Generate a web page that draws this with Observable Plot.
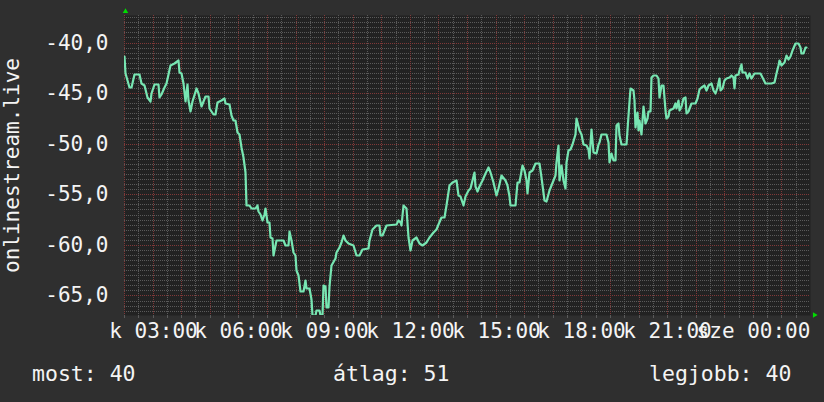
<!DOCTYPE html>
<html><head><meta charset="utf-8">
<script src="https://cdn.jsdelivr.net/npm/d3@7"></script>
<script src="https://cdn.jsdelivr.net/npm/@observablehq/plot@0.6"></script>
<style>
html,body{margin:0;padding:0;background:#2f2f2f;}
#wrap{position:relative;width:824px;height:402px;overflow:hidden;font-family:"DejaVu Sans Mono",monospace;color:#f4f4f4;}
#chart svg{display:block;}
#legend{position:absolute;left:0;top:363px;width:824px;height:24px;font-size:21.5px;line-height:21.5px;}
#legend span{position:absolute;top:0;white-space:pre;}
</style></head><body><div id="wrap"><div id="chart"></div><div id="legend"></div></div>
<script>
// time span: kedd 02:00 -> szerda 02:00
const startTime = "2024-01-02T02:00:00Z";
const endTime = "2024-01-03T02:00:00Z";
const minutesAfterStart = [1,3,10,15,21,31,36,43,48,54,57,62,71,73,78,83,89,96,106,113,115,120,123,127,132,134,138,143,152,156,162,169,176,179,186,190,195,204,209,213,220,225,228,234,237,242,246,249,253,257,263,267,274,279,282,286,290,293,297,300,304,307,310,312,316,320,333,337,344,347,351,354,359,362,365,370,375,379,383,389,393,395,400,404,409,412,416,417,421,424,429,431,435,442,445,451,456,459,463,470,480,486,494,500,512,515,521,529,535,538,542,550,571,575,580,582,585,592,596,601,605,613,620,626,634,641,648,654,659,666,671,675,682,689,697,701,706,711,715,722,727,734,737,741,746,752,757,764,769,774,781,785,792,799,804,808,811,820,825,830,836,839,843,846,850,857,862,871,876,881,886,893,897,904,907,911,913,918,921,925,928,932,937,941,946,949,955,960,963,969,974,977,981,984,990,995,998,1002,1012,1016,1019,1023,1026,1030,1033,1037,1040,1044,1054,1058,1063,1068,1070,1073,1076,1079,1082,1086,1089,1093,1097,1100,1105,1107,1110,1117,1121,1124,1128,1131,1135,1138,1142,1145,1152,1156,1159,1163,1166,1170,1173,1177,1180,1184,1191,1198,1203,1207,1212,1217,1221,1226,1233,1236,1240,1245,1249,1252,1255,1259,1264,1270,1275,1278,1280,1283,1289,1292,1295,1298,1303,1308,1312,1317,1322,1327,1334,1340,1345,1359,1364,1368,1373,1375,1380,1385,1390,1394,1397,1403,1408,1415,1418,1422,1425,1429,1432];
const values = [-41.3,-43.0,-44.4,-44.4,-43.1,-43.1,-44.0,-44.2,-45.4,-45.8,-45.0,-44.1,-44.1,-45.4,-45.1,-44.4,-44.0,-42.2,-42.0,-41.7,-42.9,-43.0,-44.0,-45.8,-44.1,-45.7,-46.8,-45.8,-44.5,-45.0,-46.3,-45.3,-45.3,-46.5,-47.1,-47.1,-45.9,-45.7,-45.5,-46.0,-46.1,-47.2,-47.7,-47.7,-48.8,-49.0,-50.3,-51.3,-52.8,-56.1,-56.1,-56.4,-56.4,-56.1,-56.7,-56.9,-57.5,-56.9,-56.4,-57.7,-57.7,-59.2,-59.3,-61.0,-60.0,-59.5,-59.5,-60.0,-60.0,-58.6,-59.5,-60.7,-61.0,-62.5,-63.0,-64.6,-64.6,-63.5,-64.3,-64.3,-65.3,-66.9,-66.9,-66.4,-66.4,-66.9,-66.9,-64.0,-64.1,-66.1,-66.1,-64.1,-62.0,-61.3,-60.7,-60.2,-59.7,-59.0,-59.5,-59.8,-60.0,-61.0,-61.0,-60.4,-60.3,-59.5,-58.4,-58.0,-58.0,-59.0,-59.0,-58.0,-57.9,-57.5,-57.7,-58.0,-56.1,-56.4,-59.2,-60.5,-59.5,-59.2,-59.8,-60.0,-59.7,-59.2,-58.7,-58.4,-57.9,-57.2,-57.2,-56.1,-54.1,-53.8,-53.6,-55.1,-55.2,-56.1,-55.2,-54.6,-54.4,-52.8,-54.2,-54.7,-54.2,-53.6,-52.9,-52.3,-52.8,-53.8,-55.1,-54.4,-53.1,-53.6,-54.1,-55.2,-56.1,-56.1,-53.8,-53.8,-52.1,-52.6,-53.6,-54.9,-52.8,-52.6,-51.9,-51.9,-53.3,-55.6,-55.7,-54.6,-54.1,-53.1,-51.8,-50.1,-53.6,-52.1,-53.6,-54.4,-51.8,-50.6,-50.5,-50.0,-49.0,-47.5,-48.6,-49.0,-50.0,-50.1,-50.5,-51.4,-48.5,-50.8,-50.9,-50.0,-49.8,-49.0,-49.0,-49.8,-51.8,-50.9,-51.6,-51.6,-48.2,-48.0,-49.1,-50.0,-50.0,-47.2,-44.5,-44.7,-45.7,-48.3,-46.9,-48.6,-47.7,-49.0,-46.3,-48.0,-47.5,-46.8,-46.8,-43.4,-43.2,-43.2,-43.5,-45.4,-44.2,-44.2,-46.7,-47.5,-47.3,-46.7,-46.5,-46.0,-46.5,-45.7,-46.7,-46.3,-45.5,-45.4,-47.0,-46.8,-46.0,-46.0,-45.5,-44.6,-44.4,-44.2,-44.7,-44.2,-44.0,-44.7,-45.0,-44.4,-43.5,-44.7,-44.5,-43.7,-43.5,-43.4,-43.2,-43.4,-44.5,-43.2,-43.1,-42.7,-42.1,-42.9,-42.9,-43.5,-43.0,-43.5,-43.0,-43.0,-43.0,-43.4,-44.0,-44.0,-43.9,-43.0,-42.2,-41.7,-42.2,-41.9,-41.2,-41.6,-41.3,-40.7,-40.0,-40.0,-40.4,-41.0,-41.0,-40.4,-40.4];
const yTicks = [-65, -60, -55, -50, -45, -40];
const yDomain = [-66.93, -37.28];
const dayAbbr = ["v", "h", "k", "sze", "cs", "p", "szo"];
const yLabel = "onlinestream.live";
const legendLabels = ["most", "átlag", "legjobb"];
const legendValues = [40, 51, 40];

const t0 = new Date(startTime), t1 = new Date(endTime);
const data = minutesAfterStart.map((m, i) => ({t: new Date(+t0 + m * 60000), v: values[i]}));

const halfHours = d3.utcMinute.every(30).range(t0, t1);
const minorX = halfHours.filter(d => d.getUTCMinutes() !== 0);
const majorX = halfHours.filter(d => d.getUTCMinutes() === 0);
const labelTicks = d3.utcHour.every(3).range(new Date(+t0 + 1), t1);
const gridY = d3.range(Math.ceil(yDomain[0] * 2) / 2, yDomain[1], 0.5);
const minorY = gridY.filter(d => d % 5 !== 0);
const majorY = gridY.filter(d => d % 5 === 0);

const gray = "#5a5a5a", red = "#803838";
const fmtTime = d => `${dayAbbr[d.getUTCDay()]} ${d3.utcFormat("%H:%M")(d)}`;
const gridStyle = {strokeDasharray: "1,1"};

const chart = Plot.plot({
  width: 824, height: 350,
  marginLeft: 124, marginRight: 14, marginTop: 15, marginBottom: 35,
  style: {background: "transparent", color: "#f4f4f4", fontFamily: "DejaVu Sans Mono", fontSize: "21px"},
  x: {type: "utc", domain: [t0, t1], round: true},
  y: {domain: yDomain, round: true},
  marks: [
    Plot.frame({fill: "#222222", stroke: null}),
    Plot.ruleY(minorY, {stroke: gray, ...gridStyle}),
    Plot.ruleX(minorX, {stroke: gray, ...gridStyle}),
    Plot.ruleX(majorX, {stroke: red, ...gridStyle}),
    Plot.ruleY(majorY, {stroke: red, ...gridStyle}),
    Plot.axisX(halfHours, {tickSize: 3, tickFormat: () => "", stroke: gray, label: null}),
    Plot.axisX(labelTicks, {tickSize: 0, tickPadding: 8, tickFormat: fmtTime, fill: "#f4f4f4", label: null}),
    Plot.axisY(yTicks, {tickSize: 0, tickPadding: 16, tickFormat: d => d.toFixed(1).replace(".", ","), fill: "#f4f4f4",
      label: yLabel, labelAnchor: "center", labelArrow: "none", labelOffset: 120}),
    Plot.line(data, {x: "t", y: "v", stroke: "#77e6b2", strokeWidth: 2.2, clip: true}),
    Plot.dot([0], {frameAnchor: "top-left", dx: 1, dy: -4, symbol: "triangle2", r: 2.6, fill: "#00dd00", stroke: null}),
    Plot.dot([0], {frameAnchor: "bottom-right", dx: 4, dy: -0.5, symbol: "triangle2", r: 2.6, fill: "#00dd00", stroke: null, rotate: 90})
  ]
});
document.getElementById("chart").appendChild(chart);

const legendLeft = [32, 333, 649];
const legend = document.getElementById("legend");
legendLabels.forEach((l, i) => {
  const s = document.createElement("span");
  s.textContent = `${l}: ${legendValues[i]}`;
  s.style.left = legendLeft[i] + "px";
  legend.appendChild(s);
});
</script></body></html>
